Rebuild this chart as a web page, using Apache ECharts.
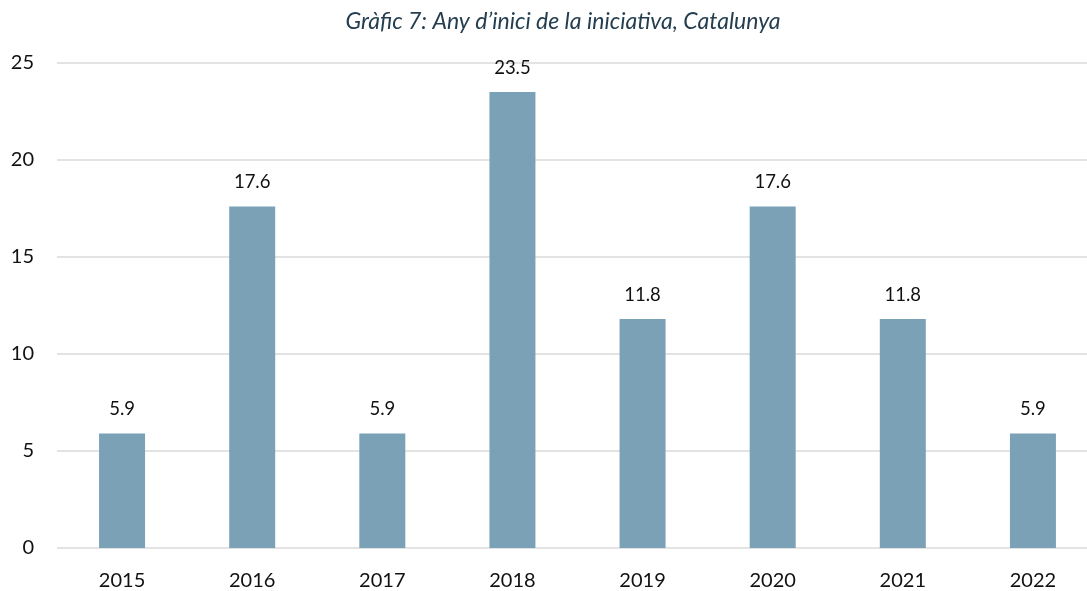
<!DOCTYPE html>
<html><head><meta charset="utf-8">
<script src="https://cdn.jsdelivr.net/npm/echarts@6/dist/echarts.min.js"></script>
<style>html,body{margin:0;padding:0;background:#fff;overflow:hidden;width:1087px;height:591px;}#c{width:1098px;height:591px;}</style>
</head><body><div id="c"></div>
<script>
const titleText = "Gràfic 7: Any d’inici de la iniciativa, Catalunya";
const categories = ["2015","2016","2017","2018","2019","2020","2021","2022"];
const values = [5.9, 17.6, 5.9, 23.5, 11.8, 17.6, 11.8, 5.9];
const yTicks = {min: 0, max: 25, interval: 5};

const chart = echarts.init(document.getElementById('c'), null, {renderer: 'canvas'});
chart.setOption({
  animation: false,
  title: {
    text: titleText, left: 558, top: 5, textAlign: 'center',
    textStyle: {fontFamily: 'Lato', fontStyle: 'italic', fontWeight: 'normal', fontSize: 23, color: '#243e50'}
  },
  grid: {left: 57, top: 63, width: 1041, height: 485, containLabel: false},
  xAxis: {
    type: 'category', data: categories,
    axisLine: {show: false}, axisTick: {show: false},
    axisLabel: {fontFamily: 'Lato', fontSize: 20, color: '#111', margin: 23}
  },
  yAxis: {
    type: 'value', min: yTicks.min, max: yTicks.max, interval: yTicks.interval,
    axisLine: {show: false}, axisTick: {show: false},
    axisLabel: {fontFamily: 'Lato', fontSize: 20, color: '#111', margin: 23},
    splitLine: {lineStyle: {color: '#e3e3e3', width: 2}}
  },
  series: [{
    type: 'bar', data: values, barWidth: 46,
    itemStyle: {color: '#7ba1b6'},
    label: {show: true, position: 'top', distance: 15, fontFamily: 'Lato', fontSize: 18.5, color: '#111',
      formatter: p => p.value.toFixed(1)}
  }]
});
</script></body></html>
